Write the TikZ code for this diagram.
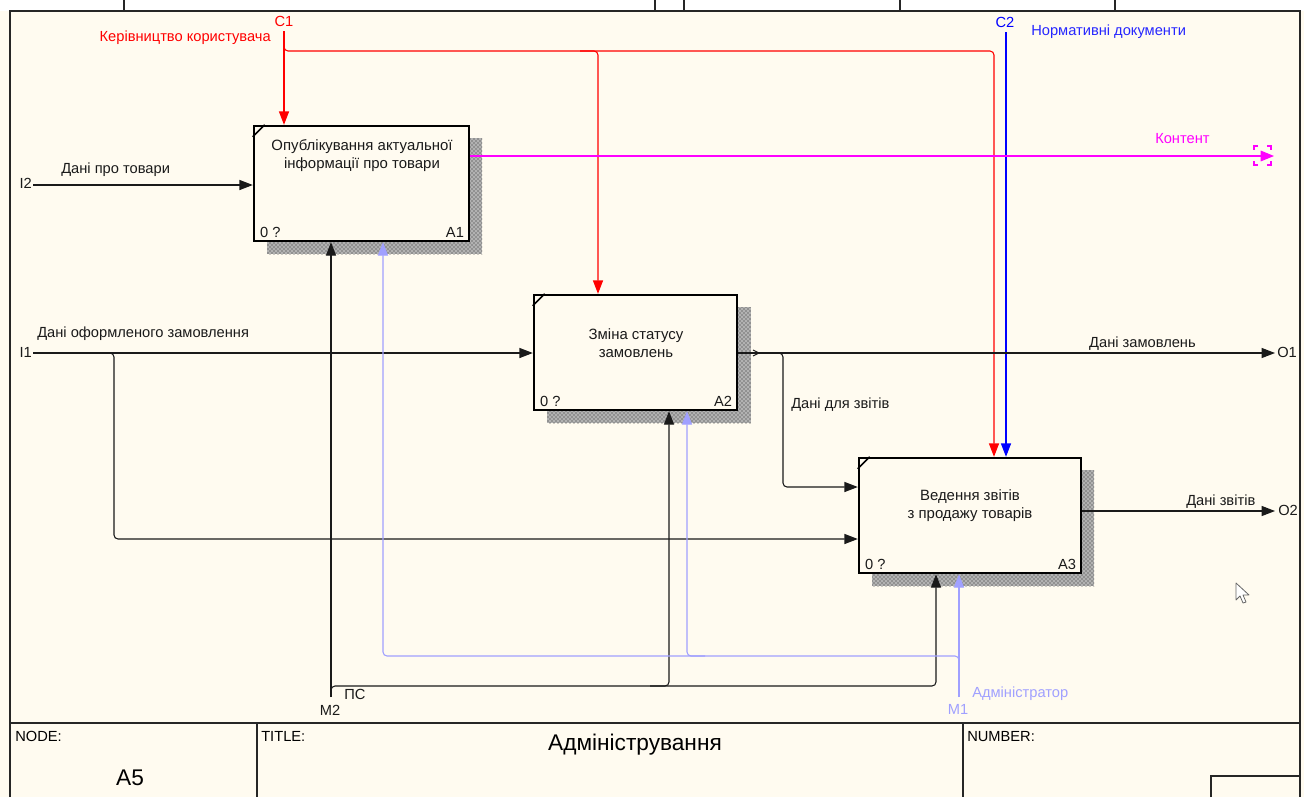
\documentclass[tikz,border=0pt]{standalone}
\usepackage{fontspec}
\setmainfont{Liberation Sans}
\usetikzlibrary{arrows.meta,patterns}
\definecolor{bg}{HTML}{FFFBF0}
\definecolor{mred}{HTML}{FF0000}
\definecolor{mblue}{HTML}{0000FF}
\definecolor{mmag}{HTML}{FF00FF}
\definecolor{mlav}{HTML}{A0A0FF}
\definecolor{ink}{HTML}{1A1A1A}
\tikzset{
  lbl/.style={font=\fontsize{11}{12}\selectfont, inner sep=0pt, text=ink},
  btxt/.style={font=\fontsize{11.2}{13.5}\selectfont, inner sep=0pt, align=center, text=ink},
  tb/.style={font=\fontsize{11}{12}\selectfont, inner sep=0pt, anchor=north west},
  big/.style={font=\fontsize{17}{19}\selectfont, inner sep=0pt},
  arr/.style={-{Triangle[length=10pt,width=7.5pt]}},
  conn/.style={line width=0.8pt, rounded corners=3pt, draw=ink},
  abox/.style={draw=black, line width=1.8pt, fill=bg, inner sep=0pt, minimum height=86.25pt},
  shadebase/.style={fill=black!30},
  shade/.style={pattern=crosshatch dots, pattern color=black!85},
  frame/.style={line width=0.9pt, draw=black!85},
}
\begin{document}
\begin{tikzpicture}[x=0.75pt,y=-0.75pt]
\useasboundingbox (0,0) rectangle (1304,797);
\fill[bg] (0,0) rectangle (1304,797);
\fill[white] (0,0) rectangle (1304,11);
% frame
\draw[frame] (10,797) -- (10,11) -- (1300,11) -- (1300,797);
\foreach \x in {124,655,684,900,1115} \draw[frame] (\x,0) -- (\x,11);
% title block
\draw[frame, line width=1.4pt] (10,723) -- (1300,723);
\draw[frame] (257,723) -- (257,797);
\draw[frame] (963,723) -- (963,797);
\draw[frame] (1211,797) -- (1211,776) -- (1300,776);
\node[tb] (tnode) at (15,731) {NODE:};
\node[tb] (ttitle) at (261,731) {TITLE:};
\node[tb] (tnum) at (967,731) {NUMBER:};
\node[big] (tA5) at (130,778) {A5};
\node[big] (tname) at (635,745) {Адміністрування};

% shadows
\foreach \r in {{(267,138) rectangle (482,254)},{(547,307) rectangle (751,423)},{(872,470) rectangle (1094,586)}} {
  \fill[shadebase] \r;
  \fill[shade] \r;
}

% boxes
\node[abox, minimum width=161.25pt] (A1) at (361.5,183.5) {};
\node[abox, minimum width=152.25pt] (A2) at (635.5,352.5) {};
\node[abox, minimum width=166.5pt] (A3) at (970,515.5) {};
\foreach \b in {A1,A2,A3} {
  \draw[line width=1.2pt] ([shift={(0,12)}]\b.north west) -- ([shift={(12,0)}]\b.north west);
  \node[lbl, anchor=base west] at ([shift={(7,-5)}]\b.south west) {0 ?};
  \node[lbl, anchor=base east] at ([shift={(-6,-5)}]\b.south east) {\b};
}
\node[btxt] (A1t) at (362,156) {Опублікування актуальної\\інформації про товари};
\node[btxt] (A2t) at (636,343) {Зміна статусу\\замовлень};
\node[btxt] (A3t) at (970,506) {Ведення звітів\\ з продажу товарів};

% coordinates of free ends
\coordinate (I2) at (33,185);
\coordinate (I1) at (33,353);
\coordinate (C1) at (284,31);
\coordinate (C2) at (1006,32);
\coordinate (M2) at (331,697);
\coordinate (M1) at (959,697);
\coordinate (O1) at (1275,353);
\coordinate (O2) at (1275,511);
\coordinate (OC) at (1274,156);

% inputs
\draw[conn, arr] (I2) -- (I2 -| A1.west);
\draw[conn, arr] (I1) -- (I1 -| A2.west);
\coordinate (i1b) at (114,539);
\draw[conn, arr] (100,353) -| (i1b) -- (i1b -| A3.west);

% controls
\draw[conn, draw=mred, arr] (C1) -- (C1 |- A1.north);
\coordinate (c1a) at (994,51);
\coordinate (c1b) at (598,51);
\draw[conn, draw=mred, arr] (284,44) |- (c1a) -- (c1a |- A3.north);
\draw[conn, draw=mred, arr] (580,51) -| (c1b |- A2.north);
\draw[conn, draw=mblue, arr] (C2) -- (C2 |- A3.north);

% outputs
\draw[line width=0.8pt, draw=mmag, -{Triangle[length=10pt,width=8pt]}] (A1.east |- OC) -- (OC);
\draw[mmag, line width=0.8pt]
  (1258,146) -- (1254,146) -- (1254,150)
  (1254,161) -- (1254,165) -- (1258,165)
  (1267,146) -- (1271,146) -- (1271,150)
  (1271,161) -- (1271,165) -- (1267,165);
\draw[conn, arr] (A2.east |- O1) -- (O1);
\draw[line width=0.7pt, draw=ink] (753,350) -- (759,353) -- (753,356);
\coordinate (a2b) at (783,487);
\draw[conn, arr] (770,353) -| (a2b) -- (a2b -| A3.west);
\draw[conn, arr] (A3.east |- O2) -- (O2);

% mechanisms
\draw[conn, arr] (M2) -- (M2 |- A1.south);
\coordinate (m2a) at (936,686);
\coordinate (m2b) at (669,686);
\draw[conn, arr] (331,694) |- (m2a) -- (m2a |- A3.south);
\draw[conn, arr] (650,686) -| (m2b |- A2.south);
\draw[conn, draw=mlav, arr] (M1) -- (M1 |- A3.south);
\coordinate (m1a) at (383,656);
\coordinate (m1b) at (687,656);
\draw[conn, draw=mlav, arr] (959,668) |- (m1a) -- (m1a |- A1.south);
\draw[conn, draw=mlav, arr] (705,656) -| (m1b |- A2.south);

% labels
\node[lbl, anchor=mid east] (lI2) at (32,185) {I2};
\node[lbl, anchor=mid east] (lI1) at (32,354) {I1};
\node[lbl, anchor=mid west] (lDT) at (61,170) {Дані про товари};
\node[lbl, anchor=mid west] (lDO) at (37,334) {Дані оформленого замовлення};
\node[lbl, anchor=center, text=mred] (lC1) at (284,21) {C1};
\node[lbl, anchor=mid east, text=mred] (lKK) at (271,38) {Керівництво користувача};
\node[lbl, anchor=center, text=mblue] (lC2) at (1005,22) {C2};
\node[lbl, anchor=mid west, text=mblue!85!white] (lND) at (1031,32) {Нормативні документи};
\node[lbl, anchor=mid west, text=mmag] (lK) at (1155,140) {Контент};
\node[lbl, anchor=mid east] (lDZ) at (1196,344) {Дані замовлень};
\node[lbl, anchor=mid west] (lO1) at (1277,354) {O1};
\node[lbl, anchor=mid west] (lDDZ) at (791,405) {Дані для звітів};
\node[lbl, anchor=mid west] (lDZv) at (1186,502) {Дані звітів};
\node[lbl, anchor=mid west] (lO2) at (1278,512) {O2};
\node[lbl, anchor=center] (lM2) at (330,710) {M2};
\node[lbl, anchor=mid west] (lPS) at (344,696) {ПС};
\node[lbl, anchor=center, text=mlav] (lM1) at (958,709) {M1};
\node[lbl, anchor=mid west, text=mlav] (lAd) at (972,694) {Адміністратор};

% mouse cursor
\draw[fill=white, draw=black!60, line width=0.6pt, line join=round]
  (1236,583) -- (1236,600) -- (1240,596) -- (1243,603) -- (1246,602) -- (1243,595) -- (1249,595) -- cycle;
\end{tikzpicture}
\end{document}
